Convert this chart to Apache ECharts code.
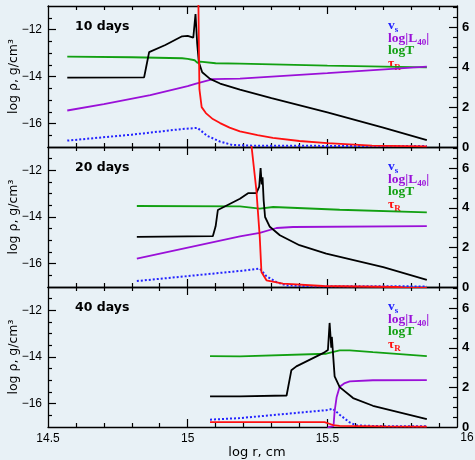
<!DOCTYPE html>
<html>
<head>
<meta charset="utf-8">
<script src="https://cdn.jsdelivr.net/npm/echarts@6/dist/echarts.min.js"></script>
<style>
html, body { margin: 0; padding: 0; background: #e8f1f6; }
#chart { width: 475px; height: 460px; }
</style>
</head>
<body>
<div id="chart"></div>
<script>
// x = log r [cm]; log rho on the left axis, the other curves on the right axis
var rho10 = [[14.569,-14.05],[14.844,-14.04],[14.853,-13.5],[14.862,-12.96],[14.92,-12.66],[14.98,-12.29],[15.0,-12.27],[15.02,-12.35],[15.028,-11.34],[15.034,-12.6],[15.04,-13.4],[15.052,-13.82],[15.08,-14.1],[15.116,-14.3],[15.187,-14.56],[15.3,-14.92],[15.5,-15.53],[15.7,-16.18],[15.856,-16.71]];
var logT10 = [[14.569,4.53],[14.8,4.5],[14.98,4.45],[15.0,4.42],[15.025,4.35],[15.035,4.22],[15.045,4.28],[15.1,4.2],[15.187,4.18],[15.5,4.08],[15.856,3.99]];
var lum10 = [[14.569,1.83],[14.7,2.15],[14.866,2.6],[15.0,3.05],[15.03,3.18],[15.09,3.4],[15.187,3.43],[15.5,3.7],[15.856,4.03]];
var vs10 = [[14.569,0.32],[14.8,0.62],[14.98,0.9],[15.035,0.96],[15.07,0.56],[15.116,0.27],[15.16,0.1],[15.25,0.06],[15.856,0.05]];
var tau10 = [[15.036,10],[15.042,2.9],[15.05,2.0],[15.065,1.7],[15.09,1.4],[15.116,1.2],[15.15,0.97],[15.187,0.78],[15.25,0.6],[15.305,0.46],[15.4,0.3],[15.5,0.19],[15.66,0.07],[15.856,0.03]];

var rho20 = [[14.818,-14.85],[15.09,-14.82],[15.1,-14.4],[15.108,-13.7],[15.187,-13.22],[15.216,-12.98],[15.246,-12.98],[15.256,-12.7],[15.261,-11.9],[15.265,-12.6],[15.268,-12.3],[15.272,-13.3],[15.277,-14.0],[15.294,-14.42],[15.33,-14.78],[15.4,-15.21],[15.496,-15.57],[15.7,-16.15],[15.856,-16.69]];
var logT20 = [[14.818,4.09],[15.187,4.07],[15.258,3.96],[15.306,4.04],[15.544,3.9],[15.856,3.77]];
var lum20 = [[14.818,1.43],[15.187,2.56],[15.258,2.73],[15.318,2.98],[15.377,3.03],[15.856,3.07]];
var vs20 = [[14.818,0.3],[15.187,0.81],[15.258,0.93],[15.282,0.54],[15.317,0.25],[15.353,0.08],[15.45,0.04],[15.856,0.03]];
var tau20 = [[15.22,8.5],[15.229,7.05],[15.246,4.87],[15.258,2.52],[15.264,0.76],[15.282,0.34],[15.341,0.17],[15.484,0.05],[15.75,0.0],[15.78,-0.05],[15.856,-0.05]];

var rho40 = [[15.08,-15.69],[15.187,-15.69],[15.354,-15.65],[15.371,-14.57],[15.389,-14.4],[15.49,-13.8],[15.502,-13.7],[15.508,-12.54],[15.514,-13.6],[15.516,-13.14],[15.526,-14.83],[15.544,-15.29],[15.592,-15.76],[15.663,-16.09],[15.856,-16.66]];
var logT40 = [[15.08,3.58],[15.187,3.57],[15.496,3.7],[15.544,3.87],[15.58,3.87],[15.663,3.78],[15.856,3.58]];
var lum40 = [[15.494,-0.3],[15.505,0.0],[15.522,0.05],[15.526,0.8],[15.533,1.5],[15.544,2.03],[15.56,2.2],[15.58,2.3],[15.663,2.36],[15.856,2.37]];
var vs40 = [[15.08,0.37],[15.187,0.45],[15.496,0.85],[15.52,0.92],[15.544,0.62],[15.58,0.23],[15.604,0.08],[15.7,0.04],[15.856,0.04]];
var tau40 = [[15.08,0.25],[15.49,0.25],[15.52,0.1],[15.544,0.06],[15.7,0.03],[15.856,0.02]];

var panelNames = ['10 days', '20 days', '40 days'];

// tick lists
var xLabels = [14.5, 15, 15.5];
var xMajor = [15, 15.5];
var xMinor = [14.6, 14.7, 14.8, 14.9, 15.1, 15.2, 15.3, 15.4, 15.6, 15.7, 15.8, 15.9];
var rhoLabels = [-16, -14, -12];
var rhoMinor = [-16.5, -15.5, -15, -14.5, -13.5, -13, -12.5, -11.5];
var rightLabels = [0, 2, 4, 6];
var rightMajor = [2, 4, 6];
var rightMinor = [0.5, 1, 1.5, 2.5, 3, 3.5, 4.5, 5, 5.5, 6.5, 7];

var panels = [
  {rho: rho10, logT: logT10, lum: lum10, vs: vs10, tau: tau10},
  {rho: rho20, logT: logT20, lum: lum20, vs: vs20, tau: tau20},
  {rho: rho40, logT: logT40, lum: lum40, vs: vs40, tau: tau40}
];

var chart = echarts.init(document.getElementById('chart'));

var X_MIN = 14.5, X_MAX = 15.964;
var tops = [6, 147, 287], heights = [141, 140, 140];
var SANS = 'Liberation Sans', SERIF = 'Liberation Serif';

function xAx(g, pos, ticks, len, labels, line) {
  return {
    type: 'value', gridIndex: g, position: pos, min: X_MIN, max: X_MAX,
    axisLine: {show: line, onZero: false, lineStyle: {color: '#000', width: 1.3}},
    axisTick: {show: true, inside: true, length: len, customValues: ticks, lineStyle: {color: '#000', width: 1.2}},
    axisLabel: labels ? {show: true, customValues: labels, margin: 6, color: '#000', fontFamily: SANS, fontSize: 12} : {show: false},
    splitLine: {show: false}
  };
}

function yAx(g, pos, min, max, ticks, len, labels, line, extra) {
  var a = {
    type: 'value', gridIndex: g, position: pos, min: min, max: max,
    axisLine: {show: line, onZero: false, lineStyle: {color: '#000', width: 1.3}},
    axisTick: {show: true, inside: true, length: len, customValues: ticks, lineStyle: {color: '#000', width: 1.2}},
    axisLabel: labels ? labels : {show: false},
    splitLine: {show: false}
  };
  if (extra) Object.assign(a, extra);
  return a;
}

function line(data, xi, yi, color, width, type) {
  return {
    type: 'line', data: data, xAxisIndex: xi, yAxisIndex: yi,
    showSymbol: false, symbol: 'none', clip: true, silent: true,
    lineStyle: {color: color, width: width, type: type || 'solid'}
  };
}

var grids = [], xAxes = [], yAxes = [], series = [], graphics = [];

panels.forEach(function (p, i) {
  grids.push({left: 48, right: 18, top: tops[i], height: heights[i], outerBoundsMode: 'none'});
  var xi = xAxes.length;
  xAxes.push(xAx(i, 'bottom', xMajor, 8, i === 2 ? xLabels : null, true));
  xAxes.push(xAx(i, 'bottom', xMinor, 4, null, false));
  xAxes.push(xAx(i, 'top', xMajor, 8, null, true));
  xAxes.push(xAx(i, 'top', xMinor, 4, null, false));

  var yi = yAxes.length;
  yAxes.push(yAx(i, 'left', -17, -11, rhoLabels, 8, {
    show: true, customValues: rhoLabels, margin: 6, color: '#000', fontFamily: SANS, fontSize: 12,
    formatter: function (v) { return String(v).replace('-', '\u2212'); }
  }, true, {
    name: 'log \u03c1, g/cm\u00b3', nameLocation: 'middle', nameGap: 28, nameMoveOverlap: false,
    nameTextStyle: {color: '#000', fontFamily: 'DejaVu Sans', fontSize: 12.5}
  }));
  yAxes.push(yAx(i, 'left', -17, -11, rhoMinor, 4, null, false));
  yAxes.push(yAx(i, 'right', 0, 7.07, rightMajor, 8, {
    show: true, customValues: rightLabels, margin: 5, color: '#000', fontFamily: SANS, fontSize: 13, fontWeight: 'bold'
  }, true));
  yAxes.push(yAx(i, 'right', 0, 7.07, rightMinor, 4, null, false));

  series.push(line(p.vs, xi, yi + 2, '#2323ff', 2, [2, 2]));
  series.push(line(p.logT, xi, yi + 2, '#12a012', 1.8));
  series.push(line(p.lum, xi, yi + 2, '#9a10d8', 1.8));
  series.push(line(p.rho, xi, yi, '#000000', 1.8));
  series.push(line(p.tau, xi, yi + 2, '#ff1010', 1.8));

  var T = tops[i];
  graphics.push({type: 'text', left: 75, top: T + 14, style: {
    text: panelNames[i], fill: '#000', font: 'bold 12.5px "DejaVu Sans"'}});

  var lx = 388;
  var rich = function (c) {
    return {
      a: {fill: c, fontSize: 13.5, fontWeight: 'bold', fontFamily: SERIF, lineHeight: 16},
      s: {fill: c, fontSize: 9, fontWeight: 'bold', fontFamily: SERIF, verticalAlign: 'bottom', lineHeight: 9}
    };
  };
  graphics.push({type: 'text', x: lx, y: T + 12, style: {text: '{a|v}{s|s}', rich: rich('#2323ff')}});
  graphics.push({type: 'text', x: lx, y: T + 25, style: {text: '{a|log|L}{s|40}{a||}', rich: rich('#9a10d8')}});
  graphics.push({type: 'text', x: lx, y: T + 37, style: {text: '{a|logT}', rich: rich('#12a012')}});
  graphics.push({type: 'text', x: lx, y: T + 50, style: {text: '{a|\u03c4}{s|R}', rich: rich('#ff1010')}});
});

graphics.push({type: 'text', x: 467, y: 438, style: {
  text: '16', fill: '#000', font: '12px "Liberation Sans"', textAlign: 'center', textVerticalAlign: 'middle'}});
graphics.push({type: 'text', x: 257, y: 453, style: {
  text: 'log r, cm', fill: '#000', font: '13px "DejaVu Sans"', textAlign: 'center', textVerticalAlign: 'middle'}});

var option = {
  backgroundColor: '#e8f1f6',
  animation: false,
  grid: grids,
  xAxis: xAxes,
  yAxis: yAxes,
  series: series,
  graphic: graphics
};
chart.setOption(option);
</script>
</body>
</html>
